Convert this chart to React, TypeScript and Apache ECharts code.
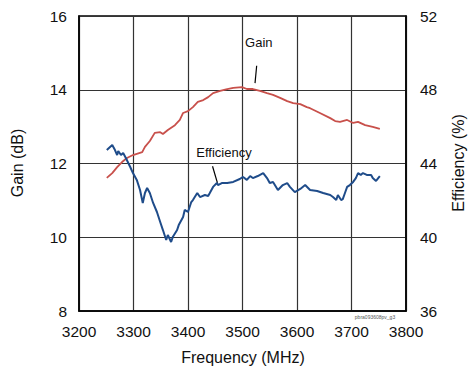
import React, { useEffect, useRef } from "react";
import * as echarts from "echarts";

const gainFreq = [3251, 3261, 3270, 3279, 3288, 3299, 3316, 3321, 3330, 3339, 3349, 3354, 3363, 3376, 3385, 3391, 3400, 3409, 3418, 3428, 3437, 3446, 3459, 3472, 3483, 3499, 3508, 3519, 3532, 3545, 3556, 3569, 3582, 3593, 3606, 3618, 3624, 3642, 3661, 3670, 3679, 3692, 3703, 3712, 3725, 3739, 3752];
const gainValues = [11.61, 11.74, 11.9, 12.04, 12.15, 12.23, 12.31, 12.45, 12.61, 12.83, 12.85, 12.8, 12.91, 13.04, 13.18, 13.37, 13.42, 13.53, 13.67, 13.72, 13.8, 13.91, 13.97, 14.02, 14.05, 14.07, 14.02, 14.02, 13.97, 13.91, 13.86, 13.78, 13.69, 13.64, 13.61, 13.53, 13.5, 13.37, 13.23, 13.15, 13.13, 13.18, 13.1, 13.13, 13.04, 12.99, 12.94];

const effFreq = [3251, 3261, 3266, 3270, 3272, 3277, 3281, 3286, 3294, 3299, 3306, 3312, 3317, 3321, 3325, 3330, 3336, 3343, 3349, 3354, 3360, 3363, 3369, 3372, 3380, 3383, 3391, 3394, 3400, 3406, 3409, 3417, 3422, 3431, 3437, 3440, 3446, 3453, 3455, 3462, 3472, 3483, 3495, 3501, 3508, 3514, 3519, 3528, 3538, 3545, 3550, 3556, 3565, 3574, 3582, 3587, 3596, 3606, 3615, 3624, 3637, 3648, 3661, 3666, 3672, 3675, 3681, 3684, 3688, 3692, 3697, 3703, 3708, 3712, 3717, 3721, 3728, 3736, 3739, 3745, 3749, 3752];
const effValues = [44.73, 45.0, 44.73, 44.46, 44.68, 44.46, 44.57, 44.3, 43.81, 43.48, 43.11, 42.56, 41.86, 42.4, 42.67, 42.4, 41.86, 41.37, 40.83, 40.39, 39.85, 40.12, 39.74, 40.01, 40.39, 40.66, 41.1, 41.48, 41.37, 41.91, 42.02, 42.4, 42.18, 42.29, 42.24, 42.4, 42.73, 42.94, 42.83, 42.94, 42.94, 43.0, 43.16, 43.27, 43.11, 43.32, 43.21, 43.32, 43.48, 43.21, 42.94, 43.0, 42.56, 42.83, 42.94, 42.73, 42.45, 42.62, 42.83, 42.56, 42.51, 42.4, 42.29, 42.18, 42.02, 42.29, 42.02, 42.07, 42.4, 42.73, 42.83, 43.0, 43.21, 43.48, 43.38, 43.48, 43.38, 43.38, 43.21, 43.05, 43.21, 43.32];

const xTicks = { min: 3200, max: 3800, interval: 100 };
const gainTicks = { min: 8, max: 16, interval: 2 };
const effTicks = { min: 36, max: 52, interval: 4 };

// annotation anchors (data coords)
const gainNote = { label: "Gain", text: [3530, 15.29], from: [3526, 14.65], to: [3523, 14.18] };
const effNote = { label: "Efficiency", text: [3466, 44.62], from: [3445, 43.85], to: [3454, 42.95] };

const FONT = "'Liberation Sans', Arial, sans-serif";

export default function App() {
  const ref = useRef<HTMLDivElement>(null);
  useEffect(() => {
    if (!ref.current) return;
    const chart = echarts.init(ref.current, undefined, { renderer: "svg" });
    const label = (margin: number) => ({ color: "#111", fontSize: 15.5, margin, fontFamily: FONT, formatter: (v: number) => String(v) });
    const option: any = {
      animation: false,
      backgroundColor: "#fff",
      textStyle: { fontFamily: FONT },
      grid: { left: 79, top: 16, width: 327, height: 295, show: true, borderColor: "#000", borderWidth: 1.5, backgroundColor: "transparent" },
      xAxis: {
        type: "value", ...xTicks,
        axisLine: { show: true, lineStyle: { color: "#000", width: 1.5 } },
        axisTick: { show: false },
        axisLabel: label(12),
        splitLine: { show: true, lineStyle: { color: "#333", width: 1.2 } },
      },
      yAxis: [
        {
          type: "value", ...gainTicks, position: "left",
          axisLine: { show: true, lineStyle: { color: "#000", width: 1.5 } },
          axisTick: { show: false },
          axisLabel: label(12),
          splitLine: { show: true, lineStyle: { color: "#333", width: 1.2 } },
        },
        {
          type: "value", ...effTicks, position: "right",
          axisLine: { show: true, lineStyle: { color: "#000", width: 1.5 } },
          axisTick: { show: false },
          axisLabel: label(14),
          splitLine: { show: false },
        },
      ],
      series: [
        {
          name: "Gain", type: "line", yAxisIndex: 0, showSymbol: false, smooth: false,
          lineStyle: { color: "#c8504b", width: 1.8 },
          data: gainFreq.map((f, i) => [f, gainValues[i]]),
        },
        {
          name: "Efficiency", type: "line", yAxisIndex: 1, showSymbol: false, smooth: false,
          lineStyle: { color: "#1f4c8a", width: 2 },
          data: effFreq.map((f, i) => [f, effValues[i]]),
        },
      ],
    };
    chart.setOption(option);

    const px = (p: number[], axis: number) => chart.convertToPixel({ xAxisIndex: 0, yAxisIndex: axis } as any, p) as number[];
    const gT = px(gainNote.text, 0), gF = px(gainNote.from, 0), gE = px(gainNote.to, 0);
    const eT = px(effNote.text, 1), eF = px(effNote.from, 1), eE = px(effNote.to, 1);
    chart.setOption({
      graphic: [
        { type: "text", x: 17, y: 163, rotation: Math.PI / 2, style: { text: "Gain (dB)", font: `16px ${FONT}`, fill: "#111", textAlign: "center", textVerticalAlign: "middle" } },
        { type: "text", x: 458, y: 163, rotation: Math.PI / 2, style: { text: "Efficiency (%)", font: `16px ${FONT}`, fill: "#111", textAlign: "center", textVerticalAlign: "middle" } },
        { type: "text", x: 243, y: 357, style: { text: "Frequency (MHz)", font: `16px ${FONT}`, fill: "#111", textAlign: "center", textVerticalAlign: "middle" } },
        { type: "text", x: 375, y: 317, style: { text: "pbra093608pv_g3", font: `5px ${FONT}`, fill: "#555", textAlign: "center", textVerticalAlign: "middle" } },
        { type: "text", x: gT[0], y: gT[1], style: { text: gainNote.label, font: `13px ${FONT}`, fill: "#111", textAlign: "center", textVerticalAlign: "middle" } },
        { type: "line", shape: { x1: gF[0], y1: gF[1], x2: gE[0], y2: gE[1] }, style: { stroke: "#000", lineWidth: 1.2 } },
        { type: "text", x: eT[0], y: eT[1], style: { text: effNote.label, font: `13px ${FONT}`, fill: "#111", textAlign: "center", textVerticalAlign: "middle" } },
        { type: "line", shape: { x1: eF[0], y1: eF[1], x2: eE[0], y2: eE[1] }, style: { stroke: "#000", lineWidth: 1.2 } },
      ],
    });
    return () => chart.dispose();
  }, []);
  return <div ref={ref} style={{ width: 470, height: 369, position: "absolute", left: 0, top: 0 }} />;
}
